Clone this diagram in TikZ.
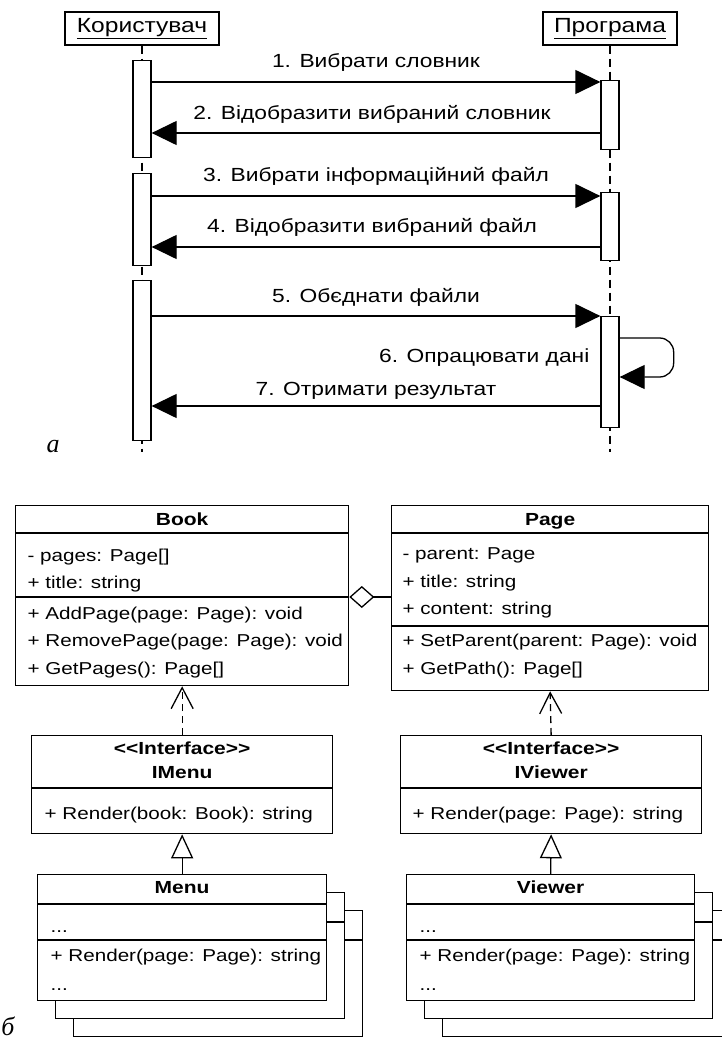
\documentclass[tikz,border=0pt]{standalone}
\usepackage{fontspec}
\setmainfont[FakeStretch=1.2]{Liberation Sans}
\newfontfamily\capfont{Liberation Serif}
\usepackage{tikz}
\usetikzlibrary{arrows.meta}

\begin{document}
\begin{tikzpicture}[x=1pt, y=-1pt, line width=1.3pt,
    lifebox/.style={draw, fill=white, minimum height=33pt, inner sep=0pt, font=\fontsize{20.5}{22}\selectfont},
    actbar/.style={draw, fill=white, minimum width=18pt, inner sep=0pt, anchor=north},
    lifeline/.style={dash pattern=on 8pt off 5pt},
    msg/.style={-{Triangle[length=25pt, width=24pt]}},
    msgtext/.style={anchor=base, inner sep=0pt, font=\fontsize{19}{21}\selectfont},
    umlbox/.style={draw, fill=white, inner sep=0pt, anchor=north west},
    umlname/.style={anchor=base, inner sep=0pt, font=\fontsize{17.5}{19}\selectfont\bfseries},
    umlitem/.style={anchor=base west, inner sep=0pt, font=\fontsize{17.2}{19}\selectfont},
    dep/.style={dash pattern=on 7pt off 5pt, -{Straight Barb[length=21pt, width=22pt]}},
    real/.style={-{Triangle[open, length=24pt, width=22pt]}},
    agg/.style={{Diamond[open, length=25pt, width=22pt]}-},
    figlabel/.style={anchor=base, inner sep=0pt, font=\capfont\itshape\fontsize{26}{28}\selectfont}
]
\useasboundingbox (0,0) rectangle (721,1043);

% --- sequence diagram ---
\node[lifebox, minimum width=154pt] (user) at (142,28.5) {\underline{Користувач}};
\node[lifebox, minimum width=134pt] (prog) at (610,28.5) {\underline{Програма}};
\coordinate (uend) at (142,452);
\coordinate (pend) at (610,452);
\draw[lifeline] (user.south) -- (uend);
\draw[lifeline] (prog.south) -- (pend);

\node[actbar, minimum height=97pt] (ua1) at (142,60) {};
\node[actbar, minimum height=92pt] (ua2) at (142,173) {};
\node[actbar, minimum height=160pt] (ua3) at (142,280) {};
\node[actbar, minimum height=69pt] (pa1) at (610,80) {};
\node[actbar, minimum height=68pt] (pa2) at (610,192) {};
\node[actbar, minimum height=111pt] (pa3) at (610,316) {};

\coordinate (m1) at (0,82);
\coordinate (m2) at (0,133);
\coordinate (m3) at (0,196);
\coordinate (m4) at (0,247);
\coordinate (m5) at (0,316);
\coordinate (m6) at (0,338);
\coordinate (m6b) at (0,377);
\coordinate (m7) at (0,406);

\draw[msg] (ua1.east |- m1) -- (pa1.west |- m1);
\draw[msg] (pa1.west |- m2) -- (ua1.east |- m2);
\draw[msg] (ua2.east |- m3) -- (pa2.west |- m3);
\draw[msg] (pa2.west |- m4) -- (ua2.east |- m4);
\draw[msg] (ua3.east |- m5) -- (pa3.west |- m5);
\draw[msg, rounded corners=14pt] (pa3.east |- m6) -- ++(54,0) -- ++(0,39) -- (pa3.east |- m6b);
\draw[msg] (pa3.west |- m7) -- (ua3.east |- m7);

\node[msgtext] (t1) at (376,68) {1. Вибрати словник};
\node[msgtext] (t2) at (372,120) {2. Відобразити вибраний словник};
\node[msgtext] (t3) at (376,182) {3. Вибрати інформаційний файл};
\node[msgtext] (t4) at (372,232) {4. Відобразити вибраний файл};
\node[msgtext] (t5) at (376,302) {5. Обєднати файли};
\node[msgtext, anchor=base east] (t6) at (590,362) {6. Опрацювати дані};
\node[msgtext] (t7) at (376,395) {7. Отримати результат};

\node[figlabel] (capa) at (53,452) {а};

% --- class diagram ---
\node[umlbox, minimum width=333pt, minimum height=180pt] (book) at (15,505) {};
\draw (book.west |- 0,533) -- (book.east |- 0,533);
\draw (book.west |- 0,597) -- (book.east |- 0,597);
\node[umlname] (bookname) at (book.north |- 0,525) {Book};
\node[umlitem] (bk1) at (27,561) {- pages: Page[]};
\node[umlitem] (bk2) at (27,588) {+ title: string};
\node[umlitem] (bk3) at (27,619) {+ AddPage(page: Page): void};
\node[umlitem] (bk4) at (27,646) {+ RemovePage(page: Page): void};
\node[umlitem] (bk5) at (27,674) {+ GetPages(): Page[]};

\node[umlbox, minimum width=317pt, minimum height=185pt] (page) at (391,505) {};
\draw (page.west |- 0,533) -- (page.east |- 0,533);
\draw (page.west |- 0,626) -- (page.east |- 0,626);
\node[umlname] (pagename) at (page.north |- 0,525) {Page};
\node[umlitem] (pg1) at (402,559) {- parent: Page};
\node[umlitem] (pg2) at (402,587) {+ title: string};
\node[umlitem] (pg3) at (402,614) {+ content: string};
\node[umlitem] (pg4) at (402,646) {+ SetParent(parent: Page): void};
\node[umlitem] (pg5) at (402,674) {+ GetPath(): Page[]};

\coordinate (aggy) at (0,597);
\draw[agg] (book.east |- aggy) -- (page.west |- aggy);

\node[umlbox, minimum width=301pt, minimum height=98pt] (imenu) at (31,735) {};
\draw (imenu.west |- 0,788) -- (imenu.east |- 0,788);
\node[umlname] (imenust) at (imenu.north |- 0,754) {\textless{}\textless{}Interface\textgreater{}\textgreater{}};
\node[umlname] (imenuname) at (imenu.north |- 0,778) {IMenu};
\node[umlitem] (im1) at (44,819) {+ Render(book: Book): string};

\node[umlbox, minimum width=301pt, minimum height=98pt] (iviewer) at (400,735) {};
\draw (iviewer.west |- 0,788) -- (iviewer.east |- 0,788);
\node[umlname] (iviewerst) at (iviewer.north |- 0,754) {\textless{}\textless{}Interface\textgreater{}\textgreater{}};
\node[umlname] (iviewername) at (iviewer.north |- 0,778) {IViewer};
\node[umlitem] (iv1) at (412,819) {+ Render(page: Page): string};

\draw[dep] (imenu.north) -- (book.south);
\draw[dep] (iviewer.north) -- (page.south);

% stacked instances
\node[umlbox, minimum width=289pt, minimum height=126pt] (menu3) at (73,910) {};
\draw (menu3.west |- 0,940) -- (menu3.east |- 0,940);
\node[umlbox, minimum width=289pt, minimum height=126pt] (menu2) at (55,892) {};
\draw (menu2.west |- 0,922) -- (menu2.east |- 0,922);
\node[umlbox, minimum width=289pt, minimum height=126pt] (menu) at (37,874) {};
\draw (menu.west |- 0,904) -- (menu.east |- 0,904);
\draw (menu.west |- 0,940) -- (menu.east |- 0,940);
\node[umlname] (menuname) at (menu.north |- 0,893) {Menu};
\node[umlitem] (mn1) at (50,932) {...};
\node[umlitem] (mn2) at (50,961) {+ Render(page: Page): string};
\node[umlitem] (mn3) at (50,990) {...};

\node[umlbox, minimum width=288pt, minimum height=126pt] (viewer3) at (442,910) {};
\draw (viewer3.west |- 0,940) -- (viewer3.east |- 0,940);
\node[umlbox, minimum width=288pt, minimum height=126pt] (viewer2) at (424,892) {};
\draw (viewer2.west |- 0,922) -- (viewer2.east |- 0,922);
\node[umlbox, minimum width=288pt, minimum height=126pt] (viewer) at (406,874) {};
\draw (viewer.west |- 0,904) -- (viewer.east |- 0,904);
\draw (viewer.west |- 0,940) -- (viewer.east |- 0,940);
\node[umlname] (viewername) at (viewer.north |- 0,893) {Viewer};
\node[umlitem] (vw1) at (419,932) {...};
\node[umlitem] (vw2) at (419,961) {+ Render(page: Page): string};
\node[umlitem] (vw3) at (419,990) {...};

\draw[real] (menu.north) -- (imenu.south);
\draw[real] (viewer.north) -- (iviewer.south);

\node[figlabel] (capb) at (8,1035) {б};
\end{tikzpicture}
\end{document}
